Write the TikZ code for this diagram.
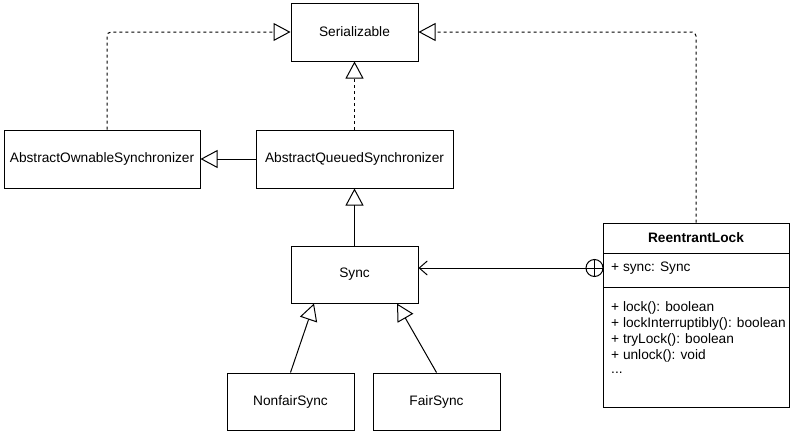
\documentclass[tikz,border=0pt]{standalone}
\usepackage{fontspec}
\setmainfont{Liberation Sans}
\usetikzlibrary{arrows.meta}
\begin{document}
\begin{tikzpicture}[x=1pt,y=-1pt,
  every node/.style={font=\fontsize{13.7}{16}\selectfont},
  box/.style={draw, line width=1pt, inner sep=0pt},
  inherit/.style={line width=1pt, -{Triangle[open,length=17pt,width=18pt,line width=1pt]}},
  realize/.style={inherit, dash pattern=on 3pt off 3pt, rounded corners=4pt},
  assoc/.style={line width=1pt, -{Straight Barb[length=8pt,width=14pt,line width=1pt]}},
  member/.style={anchor=west, inner sep=0pt}
]
\useasboundingbox (0,0) rectangle (793,431);

\node[box, minimum width=127pt, minimum height=58pt] (ser) at (354.5,32) {Serializable};
\node[box, minimum width=196pt, minimum height=58pt] (aos) at (102,159) {AbstractOwnableSynchronizer};
\node[box, minimum width=197pt, minimum height=58pt] (aqs) at (354.5,159) {AbstractQueuedSynchronizer};
\node[box, minimum width=127pt, minimum height=57pt] (sync) at (354.5,274.5) {Sync};
\node[box, minimum width=127pt, minimum height=57pt] (nfs) at (290.5,401.5) {NonfairSync};
\node[box, minimum width=127pt, minimum height=57pt] (fs) at (436.5,401.5) {FairSync};

\node[box, minimum width=186pt, minimum height=30pt] (rlhead) at (696,238) {\bfseries ReentrantLock};
\node[box, minimum width=186pt, minimum height=34pt] (rlattr) at (696,270) {};
\node[box, minimum width=186pt, minimum height=120pt] (rlmeth) at (696,347) {};

\node[member] (a1) at (611,268) {+ sync: Sync};
\node[member] (m1) at (611,308) {+ lock(): boolean};
\node[member] (m2) at (611,324) {+ lockInterruptibly(): boolean};
\node[member] (m3) at (611,340) {+ tryLock(): boolean};
\node[member] (m4) at (611,356) {+ unlock(): void};
\node[member] (m5) at (611,373) {...};

\node[circle, draw, line width=1pt, minimum size=17pt, inner sep=0pt] (cp) at (594.5,268) {};
\draw[line width=1pt] (cp.north) -- (cp.south) (cp.west) -- (cp.east);

\draw[realize] ([xshift=5pt]aos.north) |- (ser.west);
\draw[realize] (aqs.north) -- (ser.south);
\draw[realize] (rlhead.north) |- (ser.east);
\draw[inherit] (aqs.west) -- (aos.east);
\draw[inherit] (sync.north) -- (aqs.south);
\draw[inherit] (nfs.north) -- ([xshift=-40.5pt]sync.south);
\draw[inherit] (fs.north) -- ([xshift=42.5pt]sync.south);
\draw[assoc] (cp.west) -- (cp.west -| sync.east);
\end{tikzpicture}
\end{document}
